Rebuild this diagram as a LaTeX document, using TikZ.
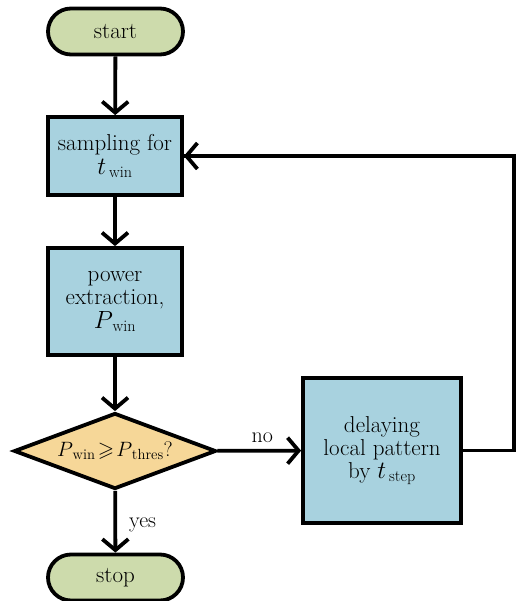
\documentclass[tikz,border=0pt]{standalone}
\usepackage{amssymb}
\usepackage{fontspec}
\usetikzlibrary{arrows.meta,shapes.geometric}
\definecolor{boxblue}{RGB}{168,210,223}
\definecolor{termgreen}{RGB}{205,219,172}
\definecolor{decyellow}{RGB}{246,215,152}
\tikzset{
  base/.style={draw=black,line width=3.8pt,align=center,font=\fontsize{23}{23}\selectfont,inner sep=0pt},
  term/.style={base,fill=termgreen,rounded corners=23pt,minimum width=135pt,minimum height=46pt},
  procbox/.style={base,fill=boxblue,minimum width=134pt},
  conn/.style={line width=3.8pt,-{Straight Barb[length=11pt,width=26pt,line width=3.8pt]}},
  lbl/.style={font=\fontsize{22}{22}\selectfont,inner sep=0pt}
}
\begin{document}
\begin{tikzpicture}[x=1pt,y=-1pt]
\useasboundingbox (0,0) rectangle (517,601);
\node[term] (start) at (115.5,31.5) {start};
\node[procbox,minimum height=78pt] (samp) at (115,156) {sampling for\\[1pt]$t_{\,\mathrm{win}}$};
\node[procbox,minimum height=107pt] (power) at (115,301.5) {power\\extraction,\\[1pt]$P_{\,\mathrm{win}}$};
\node[base,fill=decyellow,diamond,minimum width=202pt,minimum height=76pt,aspect=2.6,font=\fontsize{21}{21}\selectfont] (dec) at (115,451) {$P_{\,\mathrm{win}}\!\geqslant\! P_{\,\mathrm{thres}}$?};
\node[procbox,minimum width=158pt,minimum height=145pt] (delay) at (382,450.5) {delaying\\local pattern\\by $t_{\,\mathrm{step}}$};
\node[term] (stop) at (115.5,577.5) {stop};
\coordinate (c1) at (514,450.5);
\coordinate (c2) at (514,156);
\draw[conn] (start) -- (samp);
\draw[conn] (samp) -- (power);
\draw[conn] (power) -- (dec);
\draw[conn] (dec) -- node[lbl,above=6pt,xshift=3pt] {no} (delay);
\draw[conn] (dec) -- node[lbl,right=12pt,pos=0.55] {yes} (stop);
\draw[line width=3.8pt,line join=miter] (delay.east) -- (c1) -- (c2) -- (samp.east);
\draw[conn] (c2) -- (samp.east);
\end{tikzpicture}
\end{document}
